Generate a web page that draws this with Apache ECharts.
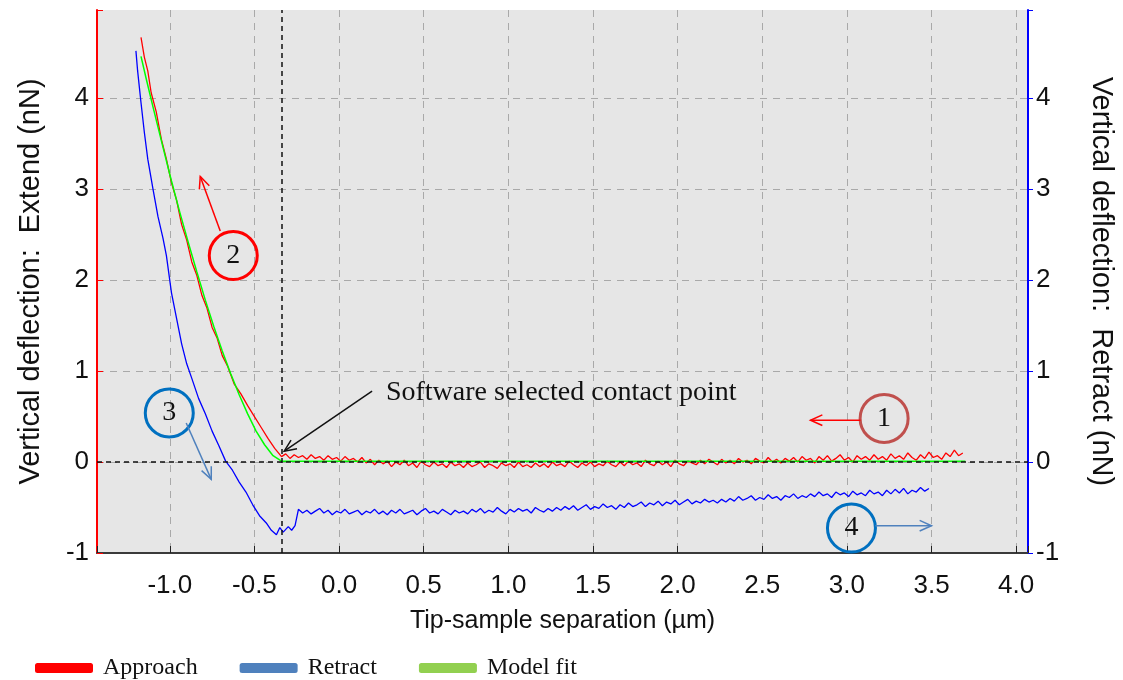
<!DOCTYPE html>
<html><head><meta charset="utf-8">
<script src="https://cdn.jsdelivr.net/npm/echarts@6/dist/echarts.min.js"></script>
<style>html,body{margin:0;padding:0;background:#fff}#c{width:1123px;height:680px}</style>
</head><body><div id="c"></div><script>
// ---- axis extents ----
const xMin = -1.43, xMax = 4.07;
const yMin = -1, yMax = 4.97;
const contactX = -0.34;

// ---- Approach (red), steep part ----
const approachSteepX = [-1.17,-1.15,-1.13,-1.11,-1.08,-1.05,-1.02,-0.99,-0.96,-0.93,-0.90,-0.87,-0.84,-0.81,-0.78,-0.75,-0.72,-0.69,-0.66,-0.62,-0.58,-0.54,-0.50,-0.46,-0.42,-0.38];
const approachSteepY = [4.67,4.45,4.30,4.06,3.85,3.55,3.33,3.07,2.88,2.61,2.44,2.20,2.05,1.83,1.69,1.48,1.36,1.17,1.06,0.86,0.75,0.62,0.50,0.38,0.26,0.15];
// flat (non-contact) part, sampled every 0.025 µm from the contact point
const approachFlatStart = -0.34, approachFlatStep = 0.025;
const approachFlatY = [
 0.06,0.09,0.04,0.08,0.05,0.07,0.03,0.08,0.04,0.06,0.02,0.07,0.03,0.05,0.01,0.06,0.02,0.04,0.00,0.05,
 -0.01,0.03,-0.03,0.02,-0.02,0.01,-0.05,0.00,-0.03,0.02,-0.04,-0.01,-0.06,0.01,-0.03,-0.05,0.00,-0.04,-0.02,-0.06,
 0.00,-0.04,-0.02,-0.06,-0.01,-0.05,-0.03,0.00,-0.06,-0.02,-0.04,-0.07,-0.01,-0.04,-0.02,-0.06,0.00,-0.05,-0.03,-0.06,
 -0.01,-0.05,-0.02,-0.06,0.00,-0.04,-0.02,-0.05,0.01,-0.03,-0.06,-0.01,-0.04,0.00,-0.05,-0.02,-0.04,0.01,-0.03,-0.05,
 0.00,-0.04,0.01,-0.03,-0.01,-0.05,0.02,-0.02,-0.04,0.01,-0.03,0.00,-0.05,0.02,-0.02,-0.04,0.01,-0.01,-0.03,0.02,
 -0.02,0.03,0.00,-0.03,0.03,-0.01,0.02,-0.02,0.04,0.00,0.02,-0.02,0.04,0.01,-0.01,0.05,0.00,0.03,-0.01,0.04,
 0.01,0.05,0.00,0.06,0.02,0.04,-0.01,0.06,0.02,0.07,0.01,0.04,0.08,0.02,0.05,0.00,0.07,0.03,0.06,0.02,
 0.08,0.03,0.06,0.02,0.09,0.04,0.07,0.03,0.10,0.05,0.02,0.08,0.04,0.11,0.05,0.07,0.03,0.10,0.06,0.13,0.07,0.10];

// ---- Retract (blue) ----
const retractSteepX = [-1.20,-1.19,-1.17,-1.15,-1.13,-1.10,-1.07,-1.04,-1.02,-0.99,-0.96,-0.93,-0.90,-0.87,-0.83,-0.79,-0.75,-0.71,-0.67,-0.63,-0.59,-0.55,-0.51,-0.47,-0.43,-0.40,-0.37,-0.35,-0.33,-0.30,-0.28,-0.26];
const retractSteepY = [4.52,4.30,3.95,3.62,3.33,3.01,2.70,2.46,2.27,1.86,1.58,1.30,1.08,0.92,0.70,0.53,0.34,0.18,0.01,-0.09,-0.22,-0.33,-0.47,-0.59,-0.67,-0.75,-0.80,-0.72,-0.77,-0.71,-0.75,-0.70];
const retractFlatStart = -0.24, retractFlatStep = 0.025;
const retractFlatY = [
 -0.52,-0.56,-0.53,-0.57,-0.54,-0.51,-0.56,-0.53,-0.58,-0.54,-0.56,-0.52,-0.57,-0.55,-0.53,-0.58,-0.54,-0.56,-0.52,-0.57,
 -0.54,-0.58,-0.53,-0.56,-0.52,-0.57,-0.55,-0.53,-0.58,-0.54,-0.51,-0.56,-0.54,-0.57,-0.52,-0.55,-0.58,-0.53,-0.56,-0.54,
 -0.57,-0.52,-0.55,-0.51,-0.56,-0.53,-0.55,-0.50,-0.54,-0.57,-0.52,-0.55,-0.51,-0.54,-0.52,-0.56,-0.50,-0.53,-0.55,-0.51,
 -0.54,-0.50,-0.53,-0.49,-0.52,-0.48,-0.53,-0.50,-0.47,-0.52,-0.49,-0.51,-0.46,-0.50,-0.48,-0.52,-0.47,-0.50,-0.45,-0.49,
 -0.47,-0.44,-0.49,-0.45,-0.47,-0.43,-0.48,-0.44,-0.46,-0.42,-0.47,-0.44,-0.41,-0.46,-0.43,-0.45,-0.41,-0.44,-0.42,-0.45,
 -0.41,-0.44,-0.40,-0.43,-0.38,-0.42,-0.40,-0.37,-0.42,-0.39,-0.41,-0.36,-0.40,-0.38,-0.42,-0.37,-0.39,-0.35,-0.40,-0.37,
 -0.39,-0.35,-0.38,-0.33,-0.37,-0.35,-0.39,-0.33,-0.36,-0.34,-0.38,-0.32,-0.36,-0.34,-0.37,-0.31,-0.35,-0.33,-0.37,-0.31,
 -0.35,-0.30,-0.34,-0.29,-0.35,-0.31,-0.33,-0.28,-0.32,-0.29];

// ---- Model fit (green) ----
const modelX = [-1.17,-1.14,-1.10,-1.04,-0.99,-0.94,-0.89,-0.84,-0.79,-0.74,-0.69,-0.64,-0.59,-0.54,-0.49,-0.44,-0.39,-0.34,3.70];
const modelY = [4.46,4.22,3.91,3.46,3.09,2.74,2.41,2.09,1.78,1.49,1.22,0.97,0.74,0.53,0.34,0.19,0.07,0.01,0.01];

// ---- annotations (data coordinates) ----
const contactText = 'Software selected contact point';
const contactTextPos = [0.277, 0.76];
const contactArrow = [[0.195, 0.78], [-0.324, 0.12]];
const markers = [
  {label: '1', center: [3.22, 0.48], arrow: [[3.08, 0.46], [2.785, 0.46]]},
  {label: '2', center: [-0.625, 2.27], arrow: [[-0.702, 2.54], [-0.82, 3.14]]},
  {label: '3', center: [-1.003, 0.54], arrow: [[-0.903, 0.43], [-0.755, -0.19]]},
  {label: '4', center: [3.027, -0.725], arrow: [[3.168, -0.70], [3.50, -0.70]]}
];
const markerStyles = {
  '1': {circle: '#c0504d', arrow: '#ff0000'},
  '2': {circle: '#ff0000', arrow: '#ff0000'},
  '3': {circle: '#0070c0', arrow: '#4f81bd'},
  '4': {circle: '#0070c0', arrow: '#4f81bd'}
};

function pairs(xs, ys) { return xs.map((x, i) => [x, ys[i]]); }
function grid(start, step, ys) { return ys.map((y, i) => [+(start + i * step).toFixed(4), y]); }

const approachData = pairs(approachSteepX, approachSteepY).concat(grid(approachFlatStart, approachFlatStep, approachFlatY));
const retractData = pairs(retractSteepX, retractSteepY).concat(grid(retractFlatStart, retractFlatStep, retractFlatY));
const modelData = pairs(modelX, modelY);

const SANS = '"Liberation Sans", Arial, sans-serif';
const SERIF = '"Liberation Serif", "Times New Roman", serif';

const isHalf = v => Math.abs(v * 2 - Math.round(v * 2)) < 1e-6;
const isInt = v => Math.abs(v - Math.round(v)) < 1e-6;
const gridLine = {show: true, showMinLine: false, showMaxLine: false,
  lineStyle: {color: '#a9a9a9', type: [7, 6], width: 1}};

const chart = echarts.init(document.getElementById('c'), null, {renderer: 'canvas'});
chart.setOption({
  animation: false,
  backgroundColor: '#ffffff',
  grid: {left: 97, right: 93, top: 10, bottom: 127, show: true, backgroundColor: '#e6e6e6', borderWidth: 0},
  legend: {
    left: 30, top: 651, itemWidth: 58, itemHeight: 10, itemGap: 42, icon: 'roundRect',
    textStyle: {fontFamily: SERIF, fontSize: 24, color: '#111', padding: [0, 0, 0, 5]},
    data: [
      {name: 'Approach', itemStyle: {color: '#ff0000'}},
      {name: 'Retract', itemStyle: {color: '#4f81bd'}},
      {name: 'Model fit', itemStyle: {color: '#92d050'}}
    ]
  },
  xAxis: {
    type: 'value', min: xMin, max: xMax, minInterval: 0.5, maxInterval: 0.5, splitNumber: 11,
    axisLine: {onZero: false, lineStyle: {color: '#3a3a3a', width: 2}},
    axisTick: {inside: true, length: 7, lineStyle: {color: '#222'}},
    axisLabel: {margin: 20, fontFamily: SANS, fontSize: 26, color: '#111',
      formatter: v => isHalf(v) ? v.toFixed(1) : ''},
    splitLine: gridLine,
    name: 'Tip-sample separation (µm)', nameLocation: 'middle', nameGap: 56,
    nameTextStyle: {fontFamily: SANS, fontSize: 25, color: '#111'}
  },
  yAxis: [{
    type: 'value', min: yMin, max: yMax, interval: 1, position: 'left',
    axisLine: {show: true, onZero: false, lineStyle: {color: '#ff0000', width: 2}},
    axisTick: {show: true, inside: true, length: 6, lineStyle: {color: '#ff0000'}},
    axisLabel: {margin: 8, fontFamily: SANS, fontSize: 26, color: '#111',
      formatter: v => isInt(v) ? String(Math.round(v)) : ''},
    splitLine: gridLine,
    name: 'Vertical deflection:  Extend (nN)', nameLocation: 'middle', nameGap: 52,
    nameTextStyle: {fontFamily: SANS, fontSize: 29, color: '#111'}
  }, {
    type: 'value', min: yMin, max: yMax, interval: 1, position: 'right',
    axisLine: {show: true, onZero: false, lineStyle: {color: '#0000ff', width: 2}},
    axisTick: {show: true, inside: false, length: 5, lineStyle: {color: '#0000ff'}},
    axisLabel: {margin: 8, fontFamily: SANS, fontSize: 26, color: '#111',
      formatter: v => isInt(v) ? String(Math.round(v)) : ''},
    splitLine: {show: false},
    name: 'Vertical deflection:  Retract (nN)', nameLocation: 'middle', nameGap: 58, nameRotate: -90,
    nameTextStyle: {fontFamily: SANS, fontSize: 29, color: '#111'}
  }],
  series: [
    {name: 'Approach', type: 'line', yAxisIndex: 0, data: approachData, showSymbol: false, symbol: 'none',
      lineStyle: {color: '#ff0000', width: 1.3}, itemStyle: {color: '#ff0000'}, z: 3},
    {name: 'Retract', type: 'line', yAxisIndex: 1, data: retractData, showSymbol: false, symbol: 'none',
      lineStyle: {color: '#0000ff', width: 1.3}, itemStyle: {color: '#4f81bd'}, z: 3},
    {name: 'Model fit', type: 'line', yAxisIndex: 0, data: modelData, showSymbol: false, symbol: 'none',
      lineStyle: {color: '#00ff00', width: 1.5}, itemStyle: {color: '#92d050'}, z: 4,
      markLine: {silent: true, symbol: ['none', 'none'], label: {show: false},
        lineStyle: {color: '#111', type: [5, 4], width: 1.5},
        data: [{yAxis: 0}, {xAxis: contactX}]}}
  ]
});

// ---- annotation graphics, positioned through the chart's own scales ----
function px(p) { return chart.convertToPixel({gridIndex: 0}, p); }
function arrowEls(a, b, color, width) {
  const p0 = px(a), p1 = px(b);
  const ang = Math.atan2(p1[1] - p0[1], p1[0] - p0[0]);
  const L = 13, spread = 0.42;
  const h1 = [p1[0] - L * Math.cos(ang - spread), p1[1] - L * Math.sin(ang - spread)];
  const h2 = [p1[0] - L * Math.cos(ang + spread), p1[1] - L * Math.sin(ang + spread)];
  return [
    {type: 'line', shape: {x1: p0[0], y1: p0[1], x2: p1[0], y2: p1[1]}, style: {stroke: color, lineWidth: width}, z: 100},
    {type: 'polyline', shape: {points: [h1, p1, h2]}, style: {stroke: color, lineWidth: width, fill: null}, z: 100}
  ];
}
const g = [];
g.push(...arrowEls(contactArrow[0], contactArrow[1], '#111', 1.5));
const tp = px(contactTextPos);
g.push({type: 'text', x: tp[0], y: tp[1], z: 100,
  style: {text: contactText, font: '28px ' + SERIF, fill: '#111', textAlign: 'left', textVerticalAlign: 'middle'}});
markers.forEach(m => {
  const st = markerStyles[m.label];
  const c = px(m.center);
  g.push({type: 'circle', shape: {cx: c[0], cy: c[1], r: 24}, style: {stroke: st.circle, lineWidth: 3, fill: null}, z: 100});
  g.push({type: 'text', x: c[0], y: c[1], z: 101,
    style: {text: m.label, font: '28px ' + SERIF, fill: '#111', textAlign: 'center', textVerticalAlign: 'middle'}});
  g.push(...arrowEls(m.arrow[0], m.arrow[1], st.arrow, 1.5));
});
chart.setOption({graphic: g});
</script></body></html>
